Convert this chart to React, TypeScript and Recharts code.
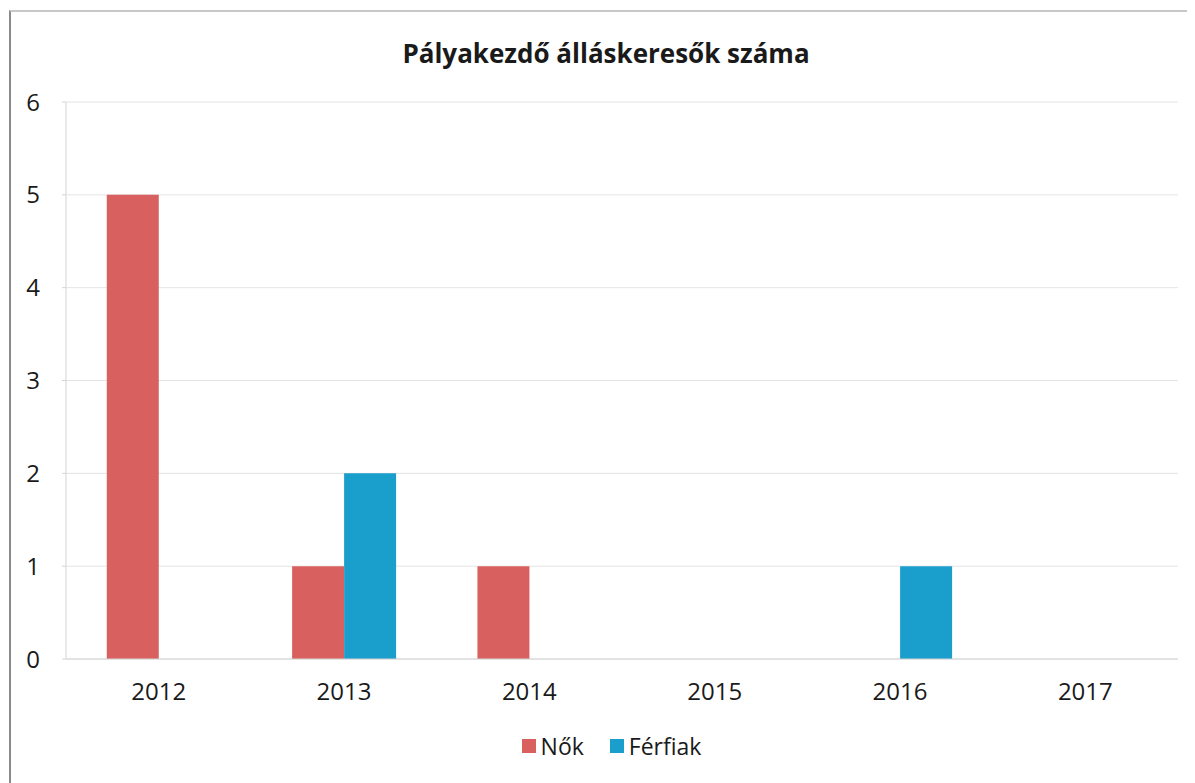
import { BarChart, Bar, XAxis, YAxis, CartesianGrid, Legend } from "recharts";

const years = ["2012", "2013", "2014", "2015", "2016", "2017"];
const nok = [5, 1, 1, 0, 0, 0];
const ferfiak = [0, 2, 0, 0, 1, 0];
const yTicks = [0, 1, 2, 3, 4, 5, 6];

const COLORS = {
  nok: "#d8615f",
  ferfiak: "#1a9ecb",
  grid: "#e4e4e4",
  text: "#1a1a1a",
};

const SERIES = [
  { key: "nok", name: "Nők", color: COLORS.nok },
  { key: "ferfiak", name: "Férfiak", color: COLORS.ferfiak },
];

const data = years.map((year, i) => ({ year, nok: nok[i], ferfiak: ferfiak[i] }));

const FONT = "'Open Sans', Lato, sans-serif";

function LegendContent() {
  return (
    <div style={{ display: "flex", justifyContent: "center", gap: 26, fontFamily: FONT, fontSize: 23, color: COLORS.text, paddingLeft: 24 }}>
      {SERIES.map((s) => (
        <div key={s.key} style={{ display: "flex", alignItems: "center", gap: 5 }}>
          <span style={{ width: 14, height: 14, background: s.color, display: "inline-block" }} />
          <span>{s.name}</span>
        </div>
      ))}
    </div>
  );
}

export default function App() {
  return (
    <div style={{ position: "relative", width: 1180, height: 775, marginLeft: 1, marginTop: 2, borderLeft: "2px solid #8a8a8a", borderTop: "2px solid #c8c8c8", background: "#fff" }}>
      <div style={{ position: "absolute", top: 23, left: 0, width: 1190, textAlign: "center", fontFamily: FONT, fontWeight: 700, fontSize: 26, color: COLORS.text }}>
        Pályakezdő álláskeresők száma
      </div>
      <BarChart
        width={1180}
        height={770}
        data={data}
        margin={{ top: 90, right: 13, left: 10, bottom: 20 }}
        barCategoryGap="22%"
        barGap={0}
      >
        <CartesianGrid horizontal vertical={false} stroke={COLORS.grid} />
        <XAxis
          dataKey="year"
          axisLine={{ stroke: "#d4d4d4" }}
          tickLine={false}
          tickMargin={18}
          height={71}
          tick={{ fontSize: 24, fill: COLORS.text, fontFamily: FONT }}
        />
        <YAxis
          domain={[0, 6]}
          ticks={yTicks}
          width={45}
          axisLine={{ stroke: "#d4d4d4" }}
          tickLine={{ stroke: "#d4d4d4" }}
          tickSize={4}
          tickMargin={22}
          tick={{ fontSize: 24, fill: COLORS.text, fontFamily: FONT }}
        />
        <Legend verticalAlign="bottom" content={<LegendContent />} />
        {SERIES.map((s) => (
          <Bar key={s.key} dataKey={s.key} name={s.name} fill={s.color} isAnimationActive={false} />
        ))}
      </BarChart>
    </div>
  );
}
